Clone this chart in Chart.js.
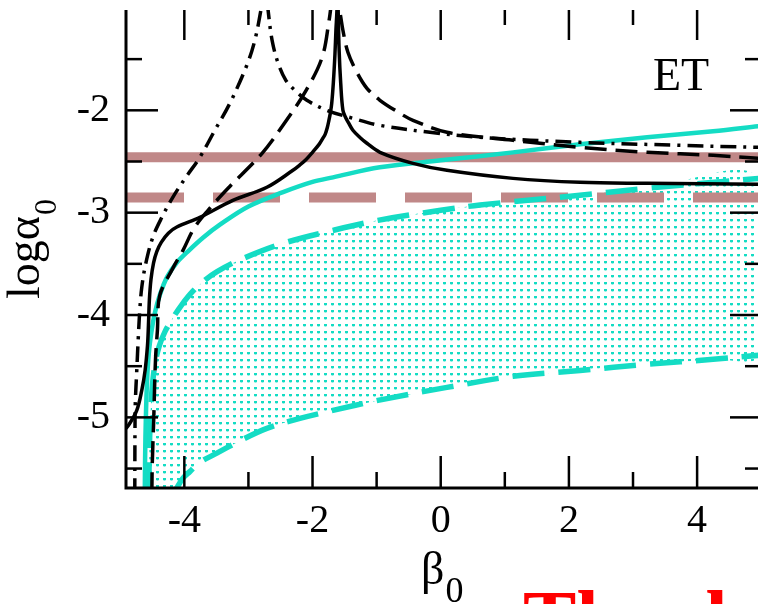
<!DOCTYPE html>
<html>
<head>
<meta charset="utf-8">
<script src="https://cdn.jsdelivr.net/npm/chart.js@4.4.1/dist/chart.umd.min.js"></script>
<style>
html,body{margin:0;padding:0;background:#ffffff;overflow:hidden;}
#wrap{width:758px;height:604px;position:relative;}
canvas{display:block;}
</style>
</head>
<body>
<div id="wrap"><canvas id="chart" width="758" height="604"></canvas></div>
<script>
// ---- axes ----
const xRange = [-4.91, 4.95];
const yRange = [-5.69, -1.02];
const xTickLabels = [-4, -2, 0, 2, 4];
const xMinorTicks = [-3, -1, 1, 3];
const yTickLabels = [-5, -4, -3, -2];
const yMinorTicks = [-5.5, -4.5, -3.5, -2.5, -1.5];

// ---- horizontal bands ----
const bandSolidLevel = -2.458;
const bandDashedLevel = -2.853;

// ---- black solid curve ----
const solidX = [-4.913,-4.871,-4.742,-4.664,-4.612,-4.575,-4.560,-4.545,-4.520,-4.480,-4.430,-4.360,-4.250,-4.117,-3.758,-3.243,-2.712,-2.306,-2.200,-2.100,-2.000,-1.895,-1.840,-1.800,-1.770,-1.745,-1.720,-1.700,-1.675,-1.650,-1.635,-1.619,-1.610,-1.600,-1.585,-1.560,-1.526,-1.480,-1.440,-1.370,-1.260,-1.151,-0.948,-0.433,0.097,1.128,2.174,3.220,4.953];
const solidY = [-5.108,-5.078,-4.932,-4.736,-4.541,-4.300,-4.100,-3.850,-3.650,-3.490,-3.380,-3.290,-3.200,-3.140,-3.046,-2.880,-2.752,-2.586,-2.535,-2.480,-2.410,-2.330,-2.275,-2.230,-2.170,-2.100,-2.020,-1.930,-1.730,-1.450,-1.220,-1.023,-0.750,-1.023,-1.414,-1.736,-2.000,-2.075,-2.120,-2.195,-2.265,-2.322,-2.410,-2.518,-2.586,-2.665,-2.704,-2.713,-2.723];

// ---- black dashed curve ----
const dashedX = [-4.507,-4.500,-4.478,-4.450,-4.420,-4.383,-4.180,-4.021,-3.849,-3.630,-3.318,-2.787,-2.428,-2.100,-1.850,-1.741,-1.660,-1.573,-1.526,-1.448,-1.307,-1.151,-0.948,-0.636,-0.433,0.097,1.128,2.174,3.220,4.250,4.953];
const dashedY = [-5.75,-5.45,-5.03,-4.44,-4.15,-3.808,-3.544,-3.368,-3.153,-2.977,-2.762,-2.420,-2.117,-1.805,-1.482,-1.120,-0.80,-1.042,-1.218,-1.433,-1.629,-1.785,-1.902,-2.029,-2.098,-2.215,-2.293,-2.362,-2.410,-2.440,-2.469];

// ---- black dash-dot curve ----
const dashDotX = [-4.773,-4.770,-4.765,-4.742,-4.718,-4.695,-4.664,-4.601,-4.492,-4.351,-4.180,-3.977,-3.758,-3.524,-3.290,-3.025,-2.900,-2.806,-2.740,-2.693,-2.631,-2.541,-2.416,-2.275,-2.088,-1.776,-1.370,-0.948,-0.168,0.613,2.174,3.735,4.953];
const dashDotY = [-5.75,-5.127,-4.863,-4.541,-4.218,-3.955,-3.730,-3.495,-3.241,-3.046,-2.850,-2.655,-2.459,-2.195,-1.932,-1.560,-1.316,-1.023,-0.750,-1.023,-1.316,-1.531,-1.707,-1.805,-1.902,-2.000,-2.078,-2.147,-2.215,-2.264,-2.313,-2.342,-2.362];

// ---- cyan solid curve ----
const cyanX = [-4.617,-4.612,-4.600,-4.582,-4.555,-4.515,-4.460,-4.380,-4.270,-4.120,-3.930,-3.700,-3.450,-3.000,-2.460,-2.000,-1.680,-0.950,0.000,1.128,2.174,3.220,4.250,4.953];
const cyanY = [-5.75,-5.40,-5.00,-4.65,-4.38,-4.17,-3.98,-3.80,-3.63,-3.49,-3.37,-3.24,-3.12,-2.94,-2.80,-2.70,-2.655,-2.557,-2.489,-2.411,-2.332,-2.264,-2.205,-2.156];

// ---- cyan dashed upper boundary ----
const upperX = [-4.554,-4.548,-4.530,-4.500,-4.455,-4.390,-4.300,-4.180,-4.040,-3.870,-3.680,-3.490,-3.130,-2.460,-1.680,-0.980,0.000,0.613,2.018,3.220,4.953];
const upperY = [-5.75,-5.40,-5.00,-4.70,-4.47,-4.30,-4.16,-4.03,-3.90,-3.77,-3.66,-3.575,-3.46,-3.30,-3.173,-3.075,-2.977,-2.925,-2.840,-2.762,-2.665];

// ---- cyan dashed lower boundary ----
const lowerX = [-4.160,-4.120,-4.024,-3.914,-3.758,-3.493,-3.134,-2.712,-2.197,-1.682,-0.980,0.097,1.128,2.174,3.220,4.250,4.953];
const lowerY = [-5.75,-5.694,-5.596,-5.53,-5.44,-5.35,-5.23,-5.108,-5.010,-4.932,-4.834,-4.707,-4.599,-4.541,-4.482,-4.433,-4.394];

// ---- texts ----
const panelLabel = 'ET';
const yTitleMain = 'log\u03B1', yTitleSub = '0';
const xTitleMain = '\u03B2', xTitleSub = '0';
const bottomText = 'Thanks';

// ---- colours ----
const BLACK = '#000000';
const CYAN = '#14dcc4';
const BROWN = '#c08888';
const SERIF = '"Liberation Serif","Times New Roman",serif';

const pts = (xs, ys) => xs.map((x, i) => ({x, y: ys[i]}));

const canvas = document.getElementById('chart');
const ctx = canvas.getContext('2d');

// dotted fill pattern
const tile = document.createElement('canvas');
tile.width = 7; tile.height = 7;
const tctx = tile.getContext('2d');
tctx.fillStyle = CYAN;
tctx.fillRect(2, 2, 3, 2);
tctx.fillRect(2.5, 4, 2, 0.5);
const dotPattern = ctx.createPattern(tile, 'repeat');

const fillShape = pts(upperX, upperY).concat(pts(lowerX, lowerY).reverse());

const lineDs = (label, data, color, width, dash, extra) => Object.assign({
  label, data, borderColor: color, borderWidth: width, borderDash: dash || [],
  pointRadius: 0, pointHoverRadius: 0, fill: false, clip: 0,
  tension: 0.35, borderCapStyle: 'butt', borderJoinStyle: 'round'
}, extra || {});

const datasets = [
  lineDs('solid', pts(solidX, solidY), BLACK, 3.5),
  lineDs('dashed', pts(dashedX, dashedY), BLACK, 3.5, [22, 9]),
  lineDs('dashdot', pts(dashDotX, dashDotY), BLACK, 3.5, [16, 7, 3, 7]),
  lineDs('cyan', pts(cyanX, cyanY), CYAN, 4.5),
  lineDs('upper', pts(upperX, upperY), CYAN, 5.5, [32, 14]),
  lineDs('lower', pts(lowerX, lowerY), CYAN, 5.5, [32, 14]),
  lineDs('bandSolid', [{x: xRange[0], y: bandSolidLevel}, {x: xRange[1], y: bandSolidLevel}], BROWN, 10, [], {tension: 0}),
  lineDs('bandDashed', [{x: xRange[0], y: bandDashedLevel}, {x: xRange[1], y: bandDashedLevel}], BROWN, 10, [67, 29], {tension: 0, borderDashOffset: 9}),
  {label: 'region', data: fillShape, borderWidth: 0, borderColor: 'rgba(0,0,0,0)', borderDash: [4, 4],
   backgroundColor: dotPattern, fill: 'shape', pointRadius: 0, tension: 0.35, clip: 0}
];

const framePlugin = {
  id: 'frame',
  afterDatasetsDraw(chart) {
    const {ctx, chartArea: a, scales: {x, y}} = chart;
    ctx.save();
    ctx.strokeStyle = BLACK;
    ctx.lineCap = 'butt';
    ctx.lineWidth = 3;
    ctx.beginPath();
    ctx.moveTo(a.left, a.top); ctx.lineTo(a.left, a.bottom + 1.5);
    ctx.moveTo(a.left - 1.5, a.bottom); ctx.lineTo(a.right, a.bottom);
    ctx.stroke();
    ctx.lineWidth = 2.5;
    const seg = (x1, y1, x2, y2) => { ctx.beginPath(); ctx.moveTo(x1, y1); ctx.lineTo(x2, y2); ctx.stroke(); };
    xTickLabels.forEach(v => { const p = x.getPixelForValue(v); seg(p, a.bottom, p, a.bottom - 32); seg(p, a.top, p, a.top + 30); });
    xMinorTicks.forEach(v => { const p = x.getPixelForValue(v); seg(p, a.bottom, p, a.bottom - 16); seg(p, a.top, p, a.top + 15); });
    yTickLabels.forEach(v => { const p = y.getPixelForValue(v); seg(a.left, p, a.left + 32, p); seg(a.right, p, a.right - 28, p); });
    yMinorTicks.forEach(v => { const p = y.getPixelForValue(v); seg(a.left, p, a.left + 16, p); seg(a.right, p, a.right - 13, p); });
    ctx.restore();
  },
  afterDraw(chart) {
    const {ctx} = chart;
    ctx.save();
    ctx.fillStyle = BLACK;
    ctx.textBaseline = 'alphabetic';
    ctx.textAlign = 'left';
    ctx.font = '46px ' + SERIF;
    ctx.fillText(panelLabel, 653, 90);
    ctx.save();
    ctx.translate(39, 299);
    ctx.rotate(-Math.PI / 2);
    ctx.font = '46px ' + SERIF;
    ctx.fillText(yTitleMain, 0, 0);
    const w = ctx.measureText(yTitleMain).width;
    ctx.font = '32px ' + SERIF;
    ctx.fillText(yTitleSub, w + 1, 17);
    ctx.restore();
    ctx.font = '46px ' + SERIF;
    ctx.fillText(xTitleMain, 421, 584);
    const wb = ctx.measureText(xTitleMain).width;
    ctx.font = '36px ' + SERIF;
    ctx.fillText(xTitleSub, 421 + wb + 1, 602);
    ctx.fillStyle = '#ff0000';
    ctx.font = 'bold 80px ' + SERIF;
    ctx.fillText(bottomText, 523, 646);
    ctx.restore();
  }
};

new Chart(canvas, {
  type: 'line',
  data: {datasets},
  options: {
    responsive: false,
    animation: false,
    devicePixelRatio: 1,
    layout: {padding: {left: 0, top: 10, right: 0, bottom: 0}},
    plugins: {legend: {display: false}, tooltip: {enabled: false}, title: {display: false}},
    events: [],
    scales: {
      x: {
        type: 'linear', position: 'bottom', min: xRange[0], max: xRange[1],
        grid: {display: false, drawTicks: false}, border: {display: false},
        afterBuildTicks: s => { s.ticks = xTickLabels.map(v => ({value: v})); },
        afterFit: s => { s.height = 116; s.paddingLeft = 0; s.paddingRight = 0; s.paddingTop = 0; s.paddingBottom = 0; },
        ticks: {font: {family: SERIF, size: 40}, color: BLACK, padding: 9, maxRotation: 0, autoSkip: false,
                callback: v => String(v)}
      },
      y: {
        type: 'linear', position: 'left', min: yRange[0], max: yRange[1],
        grid: {display: false, drawTicks: false}, border: {display: false},
        afterBuildTicks: s => { s.ticks = yTickLabels.map(v => ({value: v})); },
        afterFit: s => { s.width = 126; s.paddingLeft = 0; s.paddingRight = 0; s.paddingTop = 0; s.paddingBottom = 0; },
        ticks: {font: {family: SERIF, size: 40}, color: BLACK, padding: 16, autoSkip: false,
                callback: v => String(v)}
      }
    }
  },
  plugins: [framePlugin]
});
</script>
</body>
</html>
